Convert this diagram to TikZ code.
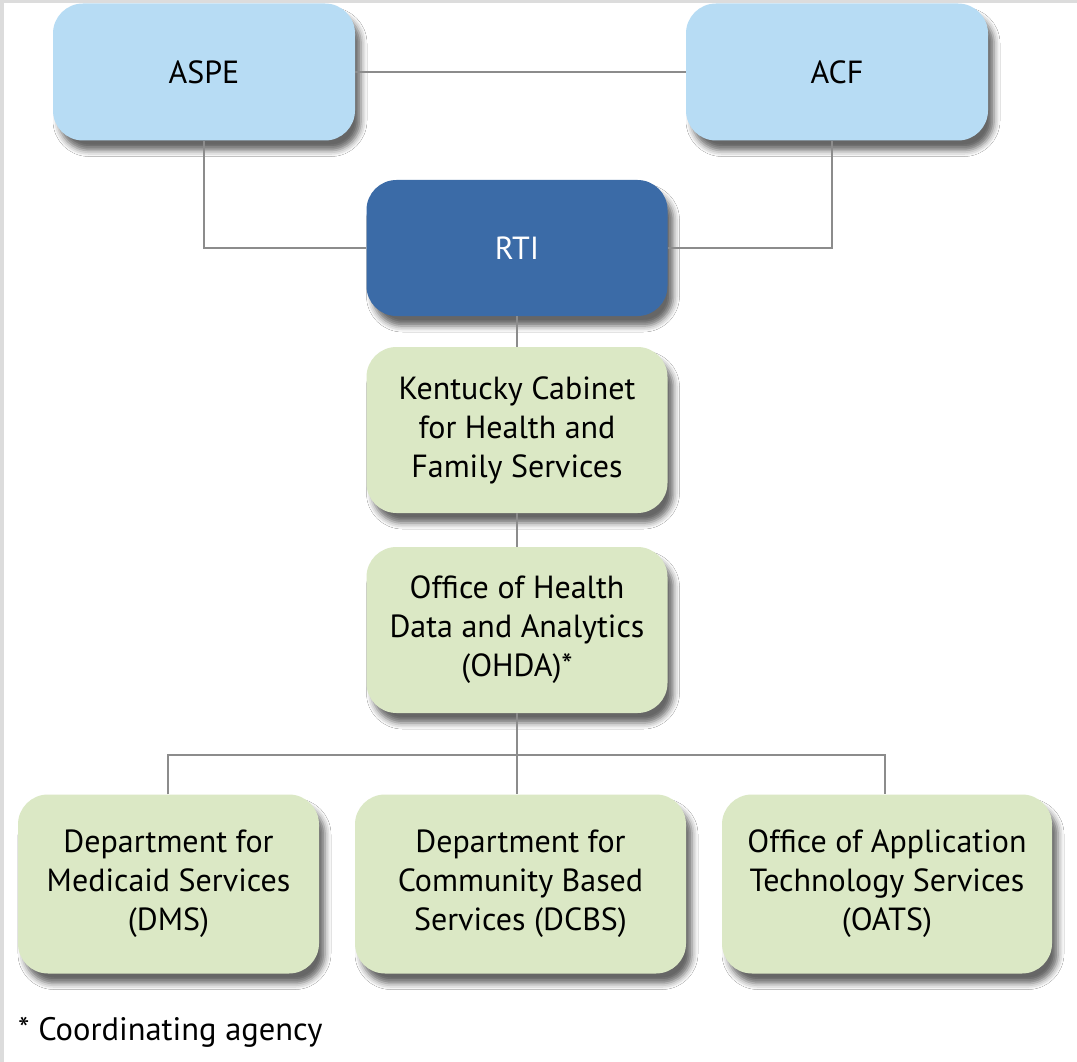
\documentclass[tikz,border=0pt]{standalone}
\usepackage{fontspec}
\setmainfont{PT Sans}
\usetikzlibrary{shadows.blur}
\definecolor{frame}{HTML}{DCDCDC}
\definecolor{paleblue}{HTML}{B7DCF4}
\definecolor{deepblue}{HTML}{3B6BA7}
\definecolor{palegreen}{HTML}{DBE8C5}
\definecolor{link}{HTML}{8C8C8C}
\begin{document}
\begin{tikzpicture}[x=1pt,y=-1pt,
  box/.style={rounded corners=30pt, align=center, inner sep=0pt,
    font=\fontsize{32}{39}\selectfont,
    blur shadow={shadow xshift=6pt, shadow yshift=-10pt, shadow blur radius=6pt, shadow opacity=60}},
  topbox/.style={box, fill=paleblue, minimum width=302pt, minimum height=137pt},
  hubbox/.style={box, fill=deepblue, text=white, minimum width=301pt, minimum height=136pt},
  midbox/.style={box, fill=palegreen, minimum width=301pt, minimum height=166pt},
  lowbox/.style={box, fill=palegreen, minimum height=179pt},
  wire/.style={draw=link, line width=2pt}]
  % page with a thin grey frame on the top and left edges
  \fill[frame] (0,0) rectangle (1077,1062);
  \fill[white] (4,3) rectangle (1077,1062);
  \useasboundingbox (0,0) rectangle (1077,1062);

  \node[topbox] (aspe) at (204,72) {ASPE};
  \node[topbox] (acf)  at (837,72) {ACF};
  \node[hubbox] (rti)  at (517,248) {RTI};
  \node[midbox] (ky)   at (517,430) {Kentucky Cabinet\\for Health and\\Family Services};
  \node[midbox] (ohda) at (517,630) {Office of Health\\Data and Analytics\\(OHDA)*};
  \node[lowbox, minimum width=301pt] (dms)  at (168.5,884) {Department for\\Medicaid Services\\(DMS)};
  \node[lowbox, minimum width=331pt] (dcbs) at (520.5,884) {Department for\\Community Based\\Services (DCBS)};
  \node[lowbox, minimum width=330pt] (oats) at (887,884) {Office of Application\\Technology Services\\(OATS)};

  % level of the branch line below OHDA
  \coordinate (bus) at (517,755);

  % connectors, ending on the box borders
  \draw[wire] (aspe.east) -- (acf.west);
  \draw[wire] (aspe.south) |- (rti.west);
  \draw[wire] ([xshift=-5pt]acf.south) |- (rti.east);
  \draw[wire] (rti.south) -- (ky.north);
  \draw[wire] (ky.south) -- (ohda.north);
  \draw[wire] (ohda.south) -- (ohda.south |- dcbs.north);
  \draw[wire] ([xshift=-0.5pt]dms.north) |- (bus) -| ([xshift=-2pt]oats.north);

  \node[anchor=base west, inner sep=0pt, font=\fontsize{32.5}{36}\selectfont] (note) at (18,1040) {* Coordinating agency};
\end{tikzpicture}
\end{document}
